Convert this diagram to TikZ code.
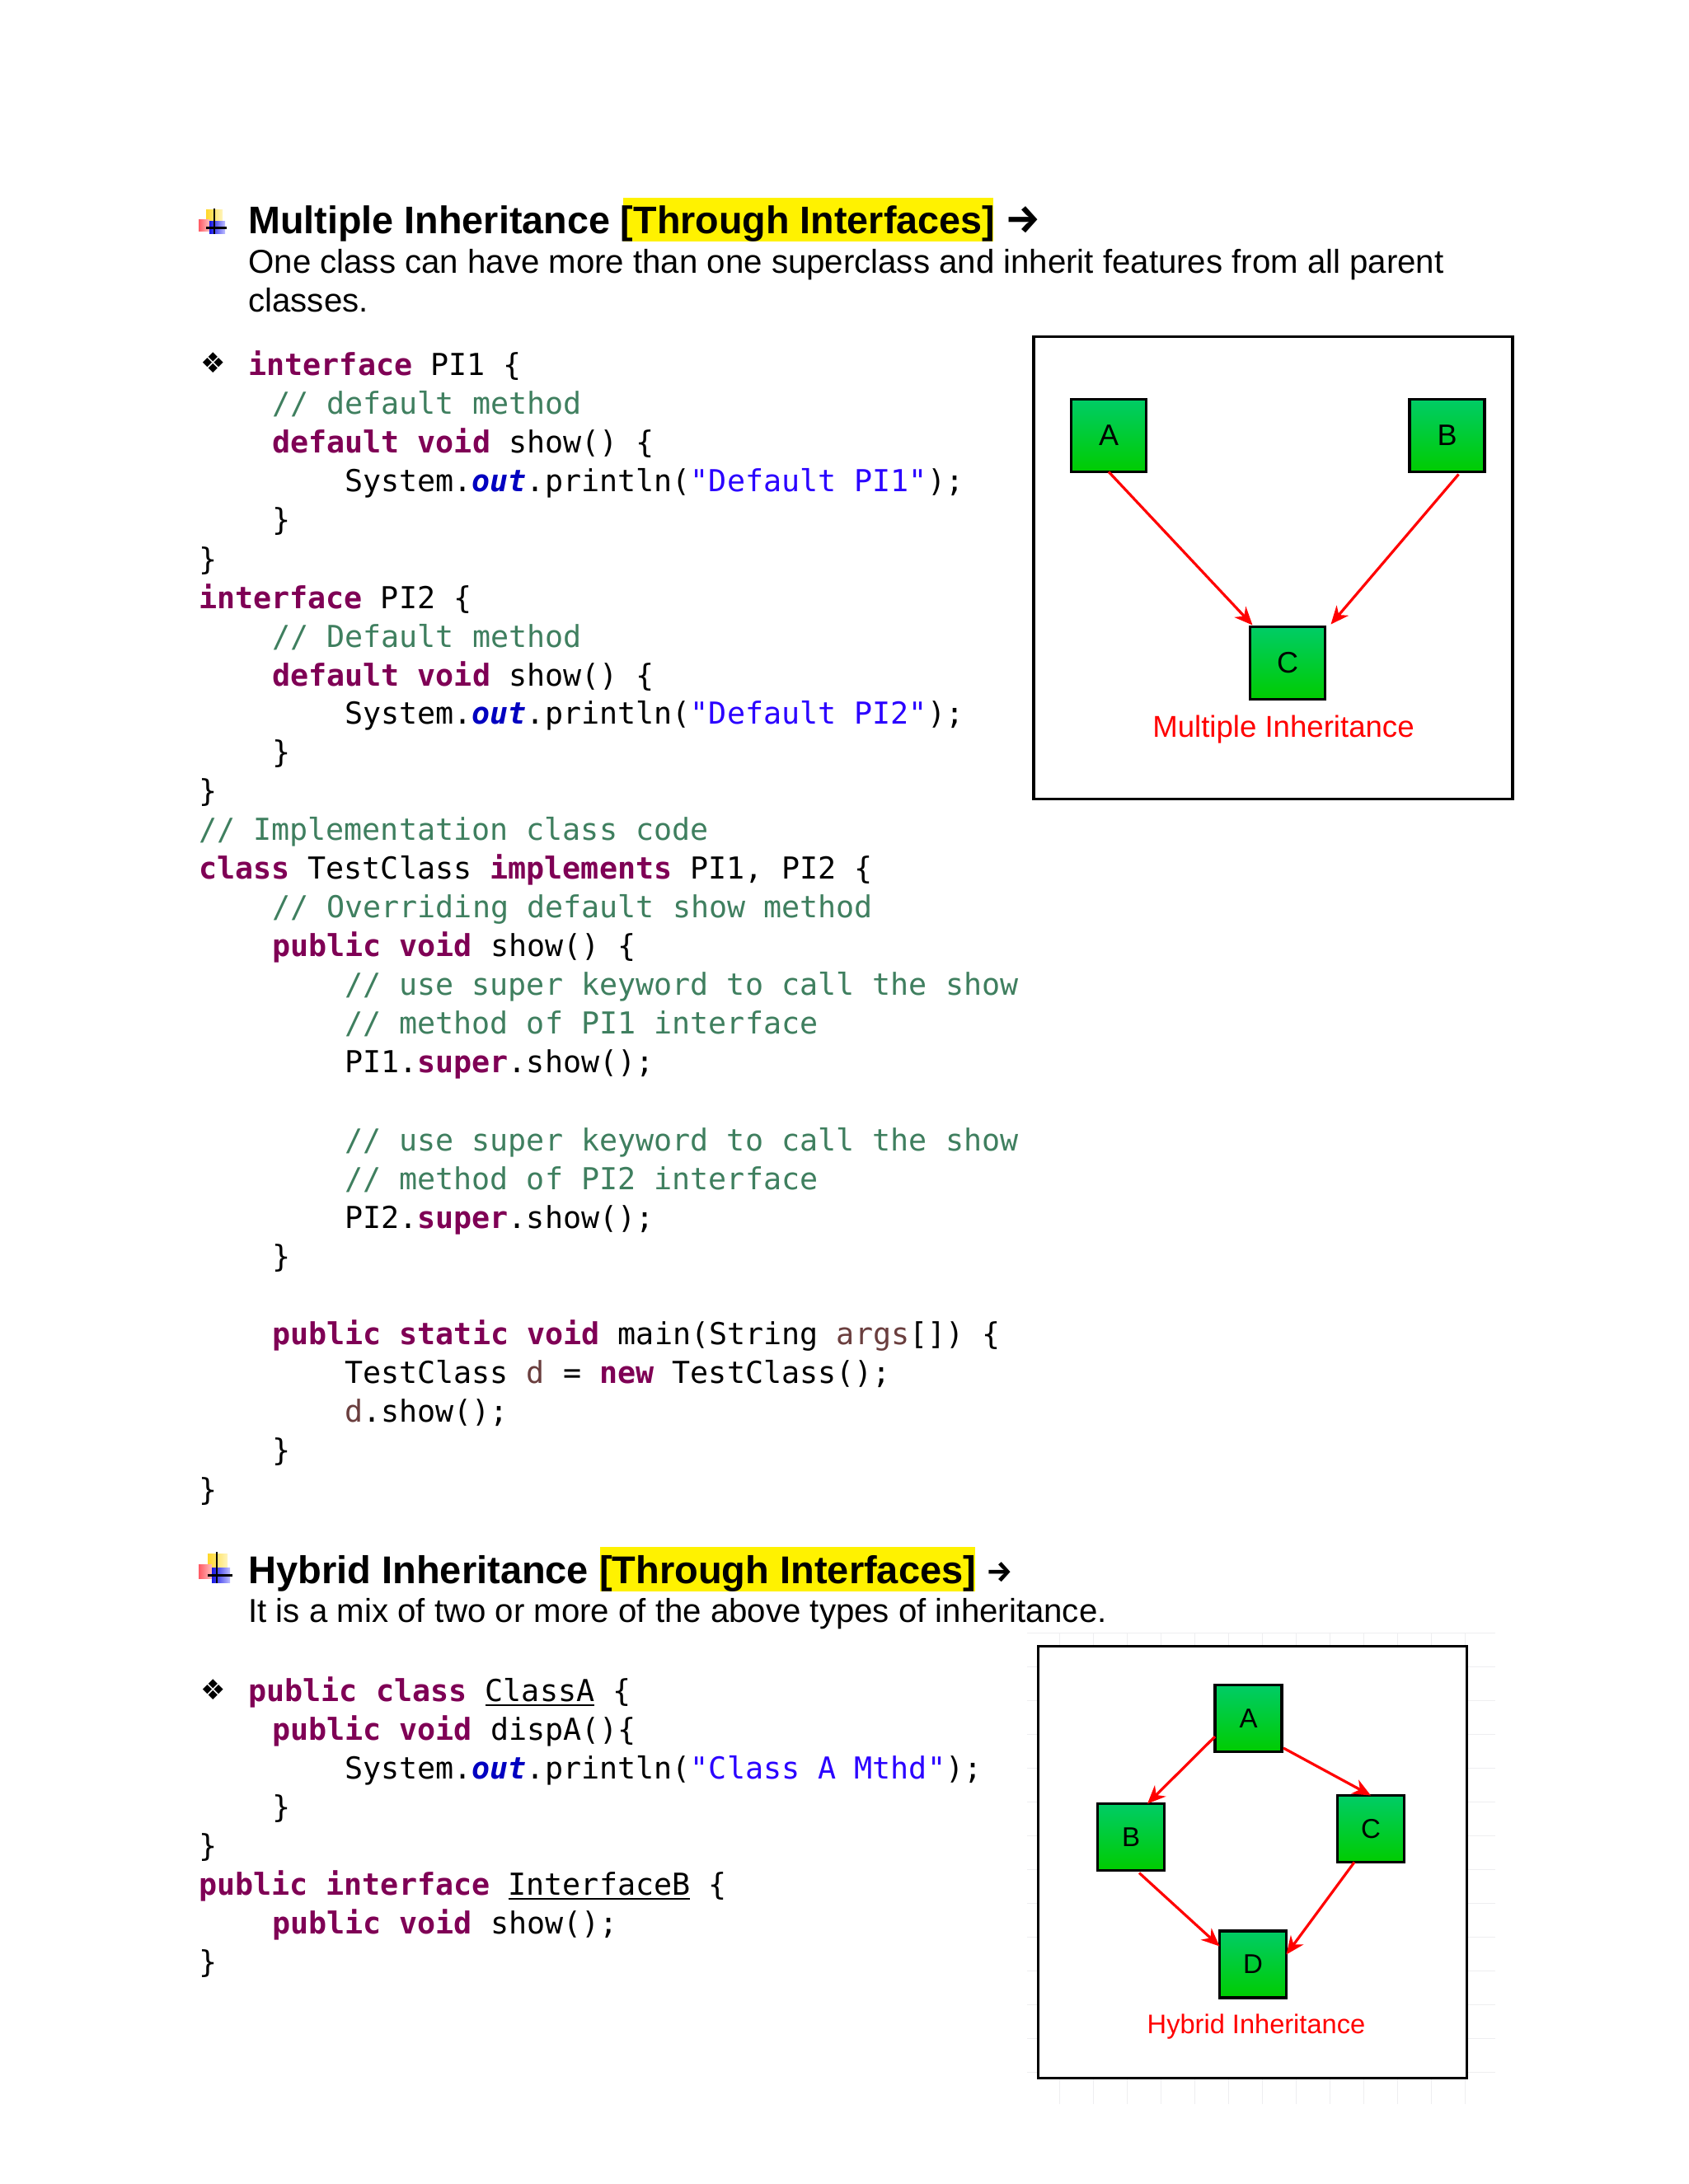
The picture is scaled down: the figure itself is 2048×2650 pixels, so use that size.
\documentclass[tikz,border=0pt]{standalone}
\usepackage{fontspec}
\setmainfont{Liberation Sans}
\newfontfamily\codefam{DejaVu Sans Mono}
\newfontfamily\arrfam{DejaVu Sans}
\newfontfamily\harfam{Fira Sans}
\definecolor{jkwc}{HTML}{7F0055}
\definecolor{jcmc}{HTML}{3F7F5F}
\definecolor{jstc}{HTML}{2A00FF}
\definecolor{joutc}{HTML}{0000C0}
\definecolor{jvarc}{HTML}{6A3E3E}
\definecolor{gtop}{RGB}{0,204,102}
\definecolor{gbot}{RGB}{0,204,0}
\definecolor{gridc}{RGB}{238,238,240}
\definecolor{pured}{RGB}{255,0,0}
\definecolor{icony}{RGB}{255,215,40}
\definecolor{iconyl}{RGB}{255,245,190}
\definecolor{iconr}{RGB}{255,90,100}
\definecolor{iconrl}{RGB}{255,190,190}
\definecolor{iconb}{RGB}{20,20,230}
\definecolor{iconbl}{RGB}{190,190,255}
\newcommand{\jkw}[1]{\textcolor{jkwc}{\bfseries #1}}
\newcommand{\jcm}[1]{\textcolor{jcmc}{#1}}
\newcommand{\jst}[1]{\textcolor{jstc}{#1}}
\newcommand{\jout}{\textcolor{joutc}{\bfseries\itshape out}}
\newcommand{\jvar}[1]{\textcolor{jvarc}{#1}}
\newcommand{\jul}[2]{\rlap{\rule[-6pt]{#1pt}{2.4pt}}#2}
\newcommand{\lb}{\char`\{}
\newcommand{\rb}{\char`\}}
\usetikzlibrary{arrows.meta}
\tikzset{
  code/.style={anchor=base west,inner sep=0pt,outer sep=0pt,font=\codefam\fontsize{36.7}{40}\selectfont},
  headtext/.style={anchor=base west,inner sep=0pt,outer sep=0pt,font=\bfseries\fontsize{46.7}{50}\selectfont},
  bodytext/.style={anchor=base west,inner sep=0pt,outer sep=0pt,font=\fontsize{40.2}{44}\selectfont},
  frame/.style={draw=black,fill=white,line width=3.6pt,rectangle,inner sep=0pt,outer sep=0pt},
  gbox/.style={draw=black,line width=3.6pt,top color=gtop,bottom color=gbot,rectangle,inner sep=0pt,outer sep=0pt,text=black},
  bigbox/.style={gbox,minimum width=91pt,minimum height=88pt,font=\fontsize{36}{38}\selectfont},
  smallbox/.style={gbox,minimum width=81pt,minimum height=81pt,font=\fontsize{33}{35}\selectfont},
  captext/.style={anchor=base,inner sep=0pt,text=pured},
  rarrow/.style={draw=pured,line width=3.2pt,-{Stealth[length=22pt,width=19pt,inset=7pt]}},
  bullet/.style={anchor=center,inner sep=0pt,outer sep=0pt,font=\arrfam\fontsize{34}{36}\selectfont},
  harrow/.style={anchor=center,inner sep=0pt,outer sep=0pt}
}
\begin{document}
\begin{tikzpicture}[x=1pt,y=-1pt]
\useasboundingbox (0,0) rectangle (2048,2650);
% heading 1
\fill[yellow] (756,240) rectangle (1205,293);
\node[headtext] (h1) at (301.5,283) {Multiple Inheritance [Through Interfaces]};
\node[harrow,font=\harfam\bfseries\fontsize{48}{52}\selectfont] (a1) at (1241,267) {→};
\node[bodytext] (b1) at (301.5,331) {One class can have more than one superclass and inherit features from all parent};
\node[bodytext] (b2) at (301.5,378) {classes.};
% icon 1
\shade[left color=icony,right color=iconyl] (250,254) rectangle (270,270);
\shade[left color=iconr,right color=iconrl] (241,266) rectangle (254,280);
\shade[left color=iconb,right color=iconbl] (254,268) rectangle (273,283);
\fill[black] (259,253) rectangle (261.2,284);
\fill[black] (250,275) rectangle (275,277.5);
\node[bullet] (d1) at (259,440) {❖};
% code 1
\node[code] (c00) at (301.5,455.5) {\jkw{interface} PI1 \lb};
\node[code] (c01) at (330,502.5) {\jcm{// default method}};
\node[code] (c02) at (330,549.5) {\jkw{default} \jkw{void} show() \lb};
\node[code] (c03) at (418,596.5) {System.\jout.println(\jst{"Default PI1"});};
\node[code] (c04) at (330,643.5) {\rb};
\node[code] (c05) at (241,691) {\rb};
\node[code] (c06) at (241,738) {\jkw{interface} PI2 \lb};
\node[code] (c07) at (330,785) {\jcm{// Default method}};
\node[code] (c08) at (330,832) {\jkw{default} \jkw{void} show() \lb};
\node[code] (c09) at (418,878) {System.\jout.println(\jst{"Default PI2"});};
\node[code] (c10) at (330,925) {\rb};
\node[code] (c11) at (241,972) {\rb};
\node[code] (c12) at (241,1019) {\jcm{// Implementation class code}};
\node[code] (c13) at (241,1066) {\jkw{class} TestClass \jkw{implements} PI1, PI2 \lb};
\node[code] (c14) at (330,1113) {\jcm{// Overriding default show method}};
\node[code] (c15) at (330,1160) {\jkw{public} \jkw{void} show() \lb};
\node[code] (c16) at (418,1207.5) {\jcm{// use super keyword to call the show}};
\node[code] (c17) at (418,1254.5) {\jcm{// method of PI1 interface}};
\node[code] (c18) at (418,1301.5) {PI1.\jkw{super}.show();};
\node[code] (c20) at (418,1396) {\jcm{// use super keyword to call the show}};
\node[code] (c21) at (418,1443) {\jcm{// method of PI2 interface}};
\node[code] (c22) at (418,1490) {PI2.\jkw{super}.show();};
\node[code] (c23) at (330,1537) {\rb};
\node[code] (c25) at (330,1631) {\jkw{public} \jkw{static} \jkw{void} main(String \jvar{args}[]) \lb};
\node[code] (c26) at (418,1678) {TestClass \jvar{d} = \jkw{new} TestClass();};
\node[code] (c27) at (418,1725) {\jvar{d}.show();};
\node[code] (c28) at (330,1772) {\rb};
\node[code] (c29) at (241,1820) {\rb};
% heading 2
\fill[yellow] (728,1877) rectangle (1183,1931);
\node[headtext,font=\bfseries\fontsize{47}{50}\selectfont] (h2) at (301.5,1921) {Hybrid Inheritance [Through Interfaces]};
\node[harrow,font=\harfam\bfseries\fontsize{36}{38}\selectfont] (a2) at (1213,1908) {→};
\node[bodytext] (b3) at (301.5,1968.5) {It is a mix of two or more of the above types of inheritance.};
% icon 2
\shade[left color=icony,right color=iconyl] (252,1885) rectangle (276,1902);
\shade[left color=iconr,right color=iconrl] (241,1898) rectangle (257,1915);
\shade[left color=iconb,right color=iconbl] (257,1902) rectangle (279,1920);
\fill[black] (262,1883) rectangle (264.4,1921);
\fill[black] (252,1910) rectangle (282,1912.6);
\node[bullet] (d2) at (259,2050) {❖};
% code 2
\node[code] (e0) at (301.5,2064) {\jkw{public} \jkw{class} \jul{132}{ClassA} \lb};
\node[code] (e1) at (330,2111) {\jkw{public} \jkw{void} dispA()\lb};
\node[code] (e2) at (418,2158) {System.\jout.println(\jst{"Class A Mthd"});};
\node[code] (e3) at (330,2205) {\rb};
\node[code] (e4) at (241,2252) {\rb};
\node[code] (e5) at (241,2299) {\jkw{public} \jkw{interface} \jul{220.5}{InterfaceB} \lb};
\node[code] (e6) at (330,2346) {\jkw{public} \jkw{void} show();};
\node[code] (e7) at (241,2393) {\rb};
% diagram 1
\node[frame,minimum width=581pt,minimum height=561pt] (f1) at (1544.5,689) {};
\node[bigbox] (A1) at (1345,528.5) {A};
\node[bigbox] (B1) at (1755.5,528.5) {B};
\node[bigbox] (C1) at (1562,804.5) {C};
\node[captext,font=\fontsize{36.6}{38}\selectfont] (l1) at (1557,894) {Multiple Inheritance};
\draw[rarrow] (A1.south) -- ([xshift=3pt,yshift=2pt]C1.north west);
\draw[rarrow] ([xshift=14pt,yshift=-3pt]B1.south) -- ([xshift=7pt,yshift=3pt]C1.north east);
% faint grid, diagram 2
\foreach \yy in {1981,2022,...,2530} {\draw[gridc,line width=1pt] (1246,\yy) -- (1814,\yy);}
\foreach \xx in {1285,1326,...,1800} {\draw[gridc,line width=1pt] (\xx,1981) -- (\xx,2553);}
% diagram 2
\node[frame,minimum width=520pt,minimum height=524pt] (f2) at (1519.5,2259.5) {};
\node[smallbox] (A2) at (1514.5,2085) {A};
\node[smallbox] (B2) at (1372,2229) {B};
\node[smallbox] (C2) at (1663,2219) {C};
\node[smallbox] (D2) at (1520,2383.5) {D};
\node[captext,font=\fontsize{32.6}{35}\selectfont] (l2) at (1524,2467) {Hybrid Inheritance};
\draw[rarrow] ([yshift=-22pt]A2.west) -- ([xshift=20pt]B2.north);
\draw[rarrow] ([xshift=2pt,yshift=-36pt]A2.east) -- (C2.north);
\draw[rarrow] ([xshift=10pt,yshift=-3pt]B2.south) -- ([yshift=22pt]D2.west);
\draw[rarrow] ([xshift=-20pt]C2.south) -- ([yshift=12pt]D2.east);
\end{tikzpicture}
\end{document}
